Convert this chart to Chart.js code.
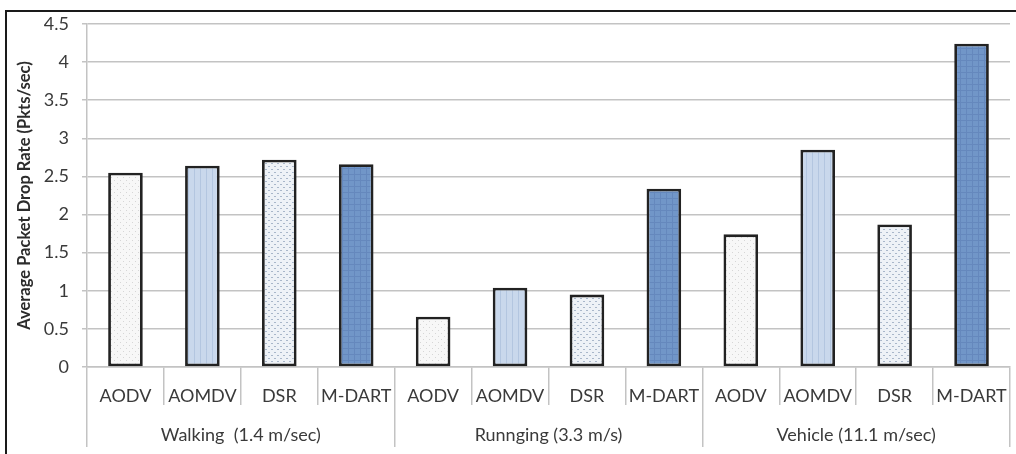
<!DOCTYPE html>
<html>
<head>
<meta charset="utf-8">
<script src="https://cdn.jsdelivr.net/npm/chart.js@4/dist/chart.umd.min.js"></script>
<style>
  html, body { margin: 0; padding: 0; background: #fff; }
  #wrap { position: relative; width: 1016px; height: 454px; overflow: hidden; }
  #frame { position: absolute; left: 5px; top: 10px; width: 1030px; height: 470px;
           border-top: 2px solid #1a1a1a; border-left: 2px solid #1a1a1a; pointer-events: none; }
  canvas { position: absolute; left: 0; top: 0; }
</style>
</head>
<body>
<div id="wrap">
  <canvas id="c" width="1016" height="454"></canvas>
  <div id="frame"></div>
</div>
<script>
// Routing protocols compared in each mobility scenario
const protocols = ['AODV', 'AOMDV', 'DSR', 'M-DART'];
const scenarios = ['Walking  (1.4 m/sec)', 'Runnging (3.3 m/s)', 'Vehicle (11.1 m/sec)'];

// Average packet drop rate (Pkts/sec) per protocol, one array per scenario
const walking = [2.55, 2.64, 2.72, 2.66];
const running = [0.66, 1.04, 0.95, 2.34];
const vehicle = [1.74, 2.85, 1.87, 4.24];

const yTicks = [0, 0.5, 1, 1.5, 2, 2.5, 3, 3.5, 4, 4.5];

// Hatched / dotted fills, one per protocol
function pattern(size, bg, paint) {
  const cv = document.createElement('canvas');
  cv.width = size; cv.height = size;
  const g = cv.getContext('2d');
  g.fillStyle = bg;
  g.fillRect(0, 0, size, size);
  paint(g);
  return g.createPattern(cv, 'repeat');
}
const fills = [
  // AODV: white with faint gray dots
  pattern(6, '#f7f7f7', g => {
    g.fillStyle = '#d6d6d6';
    g.fillRect(0, 0, 1, 1); g.fillRect(3, 3, 1, 1);
  }),
  // AOMDV: pale blue with fine vertical stripes
  pattern(6, '#c9d8ec', g => {
    g.fillStyle = '#b3c6e0';
    g.fillRect(2, 0, 1, 6);
  }),
  // DSR: near-white with small blue-gray dots
  pattern(6, '#eef2f7', g => {
    g.fillStyle = '#a9b7ca';
    g.fillRect(1, 1, 2, 1); g.fillRect(4, 4, 2, 1);
  }),
  // M-DART: medium blue with a faint grid texture
  pattern(6, '#7196c8', g => {
    g.fillStyle = '#6588bd';
    g.fillRect(0, 0, 6, 1); g.fillRect(0, 0, 1, 6);
  })
];

const values = [...walking, ...running, ...vehicle];
const labels = scenarios.flatMap(() => protocols);
const colors = values.map((_, i) => fills[i % protocols.length]);

const FONT = 'Lato, "Open Sans", sans-serif';
const GRID = '#c3c3c3';

new Chart(document.getElementById('c'), {
  type: 'bar',
  data: {
    labels: labels,
    datasets: [{
      data: values,
      backgroundColor: colors,
      borderColor: '#222222',
      borderWidth: 2.8,
      borderSkipped: false,
      categoryPercentage: 1.0,
      barPercentage: 0.45
    }]
  },
  options: {
    responsive: false,
    animation: false,
    events: [],
    layout: { padding: { left: 8, right: 6, top: 24, bottom: 7 } },
    plugins: { legend: { display: false }, tooltip: { enabled: false } },
    scales: {
      y: {
        min: 0, max: 4.5,
        afterBuildTicks: s => { s.ticks = yTicks.map(v => ({ value: v })); },
        afterFit: s => { s.width = 79; },
        ticks: {
          padding: 13,
          color: '#3a3a3a',
          font: { family: FONT, size: 18 },
          callback: v => String(v)
        },
        grid: { color: GRID, lineWidth: 1.5, tickLength: 5 },
        border: { display: true, color: GRID, width: 1.5 },
        title: {
          display: true,
          text: 'Average Packet Drop Rate (Pkts/sec)',
          color: '#2c2c2c',
          font: { family: FONT, size: 16.5, weight: 'bold' },
          padding: { top: 7, bottom: 0 }
        }
      },
      x: {
        weight: 0,
        afterFit: s => { s.height = 38; },
        ticks: {
          padding: -20,
          color: '#3a3a3a',
          font: { family: FONT, size: 18 },
          maxRotation: 0, autoSkip: false
        },
        grid: { offset: true, drawOnChartArea: false, color: GRID, lineWidth: 1.5, tickLength: 38 },
        border: { display: true, color: GRID, width: 1.5 }
      },
      groups: {
        type: 'category',
        position: 'bottom',
        weight: 1,
        labels: scenarios,
        offset: true,
        afterFit: s => { s.height = 42; },
        ticks: {
          padding: -23,
          color: '#3a3a3a',
          font: { family: FONT, size: 18 },
          maxRotation: 0, autoSkip: false
        },
        grid: { offset: true, drawOnChartArea: false, color: GRID, lineWidth: 1.5, tickLength: 42 },
        border: { display: false }
      }
    }
  }
});
</script>
</body>
</html>
